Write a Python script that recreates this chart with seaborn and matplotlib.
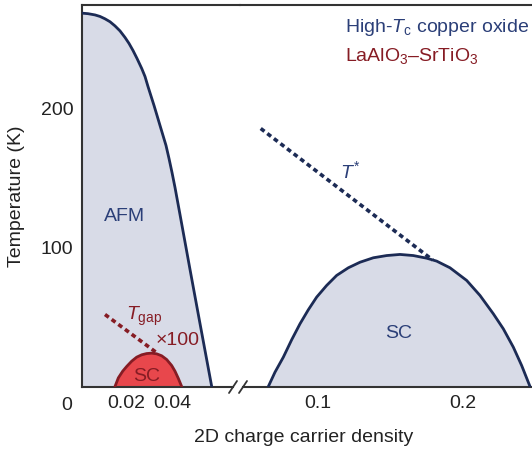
import matplotlib
matplotlib.use("Agg")
import matplotlib.pyplot as plt
import seaborn as sns
from matplotlib.lines import Line2D

# ---------------- data ----------------
afm_x = [0.0, 0.00288, 0.00597, 0.00819, 0.0104, 0.01261, 0.01482, 0.01704,
         0.01925, 0.02102, 0.02279, 0.02456, 0.02664, 0.02810, 0.02942, 0.03075,
         0.03208, 0.03341, 0.03473, 0.03606, 0.03739, 0.03872, 0.04004, 0.04137,
         0.04358, 0.04801, 0.05243, 0.05761]
afm_T = [268.6, 268.2, 267.3, 266.2, 264.5, 262.4, 259.4, 255.8,
         251.1, 246.8, 241.7, 236.0, 228.8, 223.0, 215.8, 209.0,
         202.2, 195.0, 187.8, 180.6, 173.4, 164.0, 154.0, 143.2,
         123.7, 84.2, 45.3, 0.0]

lao_sc_x = [0.01482, 0.0163, 0.01822, 0.01999, 0.0222, 0.02441, 0.02662, 0.02884,
            0.03105, 0.03326, 0.03547, 0.03769, 0.0399, 0.04137, 0.04285, 0.04432]
lao_sc_T = [0.0, 6.2, 11.0, 14.4, 18.2, 21.1, 22.8, 23.7,
            24.0, 23.5, 22.1, 19.4, 15.1, 11.0, 5.8, 0.0]

tgap_x = [0.0104, 0.0335]
tgap_T = [51.8, 24.0]

cu_sc_x = [0.06575, 0.07034, 0.07609, 0.08184, 0.08759, 0.09333, 0.09908, 0.10598,
           0.11287, 0.12092, 0.12897, 0.13816, 0.14736, 0.15655, 0.16575, 0.17494,
           0.18184, 0.19103, 0.20253, 0.21172, 0.22092, 0.22781, 0.23471, 0.24046,
           0.24621]
cu_sc_T = [0.0, 10.3, 21.1, 33.6, 45.1, 55.2, 64.3, 72.7,
           79.9, 85.4, 89.4, 92.6, 94.2, 95.0, 94.2, 92.3,
           90.2, 85.4, 76.3, 65.5, 52.3, 41.5, 28.3, 15.1,
           0.0]

tstar_x = [0.0605, 0.1791]
tstar_T = [185.6, 91.0]

left_ticks = [0.02, 0.04]
left_ticklabels = ["0.02", "0.04"]
right_ticks = [0.1, 0.2]
right_ticklabels = ["0.1", "0.2"]
y_ticks = [100, 200]
y_ticklabels = ["100", "200"]

# ---------------- style ----------------
sns.set_style("ticks")
plt.rcParams["font.family"] = ["Liberation Sans", "DejaVu Sans"]
plt.rcParams["mathtext.fontset"] = "custom"
plt.rcParams["mathtext.rm"] = "Liberation Sans"
plt.rcParams["mathtext.it"] = "Liberation Sans:italic"
plt.rcParams["mathtext.bf"] = "Liberation Sans:bold"

NAVY = "#1c2b55"
FILL = "#d8dbe7"
RED_FILL = "#e8474c"
DARK_RED = "#861c24"
TXT_NAVY = "#2b3f78"
SPINE = "#333333"
TXT = "#222222"
FS = 14

W, H = 532, 453
fig = plt.figure(figsize=(W / 100, H / 100), dpi=100)

def fx(px):
    return px / W

def fy(py):
    return 1 - py / H

y_top_px, y_bot_px = 4.5, 386.5
axL = fig.add_axes([fx(81.5), fy(y_bot_px), fx(240) - fx(81.5), (y_bot_px - y_top_px) / H])
axR = fig.add_axes([fx(240), fy(y_bot_px), fx(532) - fx(240), (y_bot_px - y_top_px) / H])

for ax in (axL, axR):
    ax.set_ylim(0, 274.8)
    ax.patch.set_alpha(0)
    for s in ax.spines.values():
        s.set_color(SPINE)
        s.set_linewidth(1.5)
    ax.tick_params(direction="in", length=5, width=1.3, colors=SPINE,
                   labelsize=FS, labelcolor=TXT, pad=6)

axL.set_xlim(0, 0.07013)
axR.set_xlim(0.04621, 0.24759)

axL.spines["right"].set_visible(False)
axL.spines["bottom"].set_bounds(0, 0.0670)
axR.spines["left"].set_visible(False)
axR.spines["right"].set_visible(False)
axR.spines["bottom"].set_bounds(0.04828, 0.24759)

axL.set_yticks(y_ticks)
axL.set_yticklabels(y_ticklabels)
axR.set_yticks([])
axL.set_xticks(left_ticks)
axL.set_xticklabels(left_ticklabels)
axR.set_xticks(right_ticks)
axR.set_xticklabels(right_ticklabels)

# ---------------- AFM dome ----------------
axL.fill_between(afm_x, afm_T, 0, color=FILL, lw=0, zorder=1)
sns.lineplot(x=afm_x, y=afm_T, ax=axL, color=NAVY, lw=2.0, sort=False,
             estimator=None, zorder=3)

# LaAlO3-SrTiO3 SC dome
axL.fill_between(lao_sc_x, lao_sc_T, 0, color=RED_FILL, lw=0, zorder=2)
sns.lineplot(x=lao_sc_x, y=lao_sc_T, ax=axL, color=DARK_RED, lw=2.0, sort=False,
             estimator=None, zorder=3)
sns.lineplot(x=tgap_x, y=tgap_T, ax=axL, color=DARK_RED, lw=2.6, sort=False,
             estimator=None, zorder=3)
axL.lines[-1].set_linestyle((0, (1.3, 1.0)))

# cuprate SC dome
axR.fill_between(cu_sc_x, cu_sc_T, 0, color=FILL, lw=0, zorder=1)
sns.lineplot(x=cu_sc_x, y=cu_sc_T, ax=axR, color=NAVY, lw=2.0, sort=False,
             estimator=None, zorder=3)
sns.lineplot(x=tstar_x, y=tstar_T, ax=axR, color=NAVY, lw=2.6, sort=False,
             estimator=None, zorder=3)
axR.lines[-1].set_linestyle((0, (1.3, 1.0)))

for ax in (axL, axR):
    ax.set_xlabel("")
    ax.set_ylabel("")

# ---------------- text ----------------
axL.text(0.0192, 122, "AFM", color=TXT_NAVY, fontsize=FS, ha="center", va="center")
axL.text(0.0290, 7.5, "SC", color=DARK_RED, fontsize=FS, ha="center", va="center")
axL.text(0.0199, 47.5, r"$T_{\rm gap}$", color=DARK_RED, fontsize=FS, ha="left",
         va="baseline")
axL.text(0.0427, 33, "×100", color=DARK_RED, fontsize=FS, ha="center", va="center")
axR.text(0.1559, 38, "SC", color=TXT_NAVY, fontsize=FS, ha="center", va="center")
axR.text(0.1150, 150, r"$T^{*}$", color=TXT_NAVY, fontsize=FS, ha="left", va="baseline")
axR.text(0.1186, 255, r"High-$T_{\rm c}$ copper oxide", color=TXT_NAVY, fontsize=FS,
         ha="left", va="baseline")
axR.text(0.1186, 234.5, r"LaAlO$_3$–SrTiO$_3$", color=DARK_RED, fontsize=FS,
         ha="left", va="baseline")

fig.text(fx(67), fy(405), "0", fontsize=FS, color=TXT, ha="center", va="center")
fig.text(fx(303.5), fy(438), "2D charge carrier density", fontsize=FS,
         color=TXT, ha="center", va="center")
fig.text(fx(17), fy(196), "Temperature (K)", fontsize=FS, color=TXT,
         ha="center", va="center", rotation=90)

# axis break marks
for x0 in (229, 239):
    fig.add_artist(Line2D([fx(x0), fx(x0 + 8)], [fy(393), fy(381)],
                          color=SPINE, lw=1.3))

fig.savefig("out.png", dpi=100)
